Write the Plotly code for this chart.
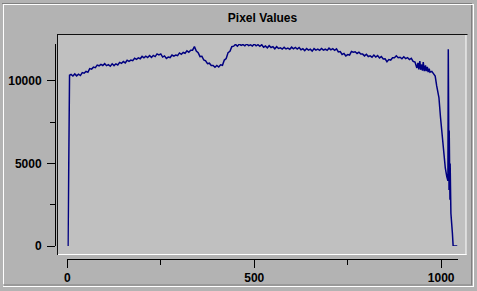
import plotly.graph_objects as go

# ---- data ----
x_vals = [2, 3, 5, 6,
          10, 15, 20, 25, 30, 35, 40, 45, 50, 55,
          60, 65, 70, 75, 80, 85, 90, 95, 100, 105,
          110, 115, 120, 125, 130, 135, 140, 145, 150, 155,
          160, 165, 170, 175, 180, 185, 190, 195, 200, 205,
          210, 215, 220, 225, 230, 235, 240, 245, 250, 255,
          260, 265, 270, 275, 280, 285, 290, 295, 300, 305,
          310, 315, 320, 325, 330, 335, 340, 345, 350, 355,
          360, 365, 370, 375, 380, 385, 390, 395, 400, 405,
          410, 415, 420, 425, 430, 435, 440, 445, 450, 455,
          460, 465, 470, 475, 480, 485, 490, 495, 500, 505,
          510, 515, 520, 525, 530, 535, 540, 545, 550, 555,
          560, 565, 570, 575, 580, 585, 590, 595, 600, 605,
          610, 615, 620, 625, 630, 635, 640, 645, 650, 655,
          660, 665, 670, 675, 680, 685, 690, 695, 700, 705,
          710, 715, 720, 725, 730, 735, 740, 745, 750, 755,
          760, 765, 770, 775, 780, 785, 790, 795, 800, 805,
          810, 815, 820, 825, 830, 835, 840, 845, 850, 855,
          860, 865, 870, 875, 880, 885, 890, 895, 900, 905,
          910, 915, 920, 925, 930, 935,
          938, 940, 943, 945, 948, 950, 952, 955, 958, 960, 963, 965, 968, 970, 975, 980,
          984, 988, 992, 994, 998, 1002, 1006, 1011, 1015, 1018, 1019, 1019.5, 1020,
          1021, 1021.5, 1022, 1023, 1023.5, 1024, 1025, 1026, 1030, 1032, 1043]
y_vals = [0, 5050, 5100, 10350,
          10400, 10300, 10430, 10310, 10410, 10330, 10510, 10470, 10580, 10530,
          10750, 10720, 10840, 10810, 10960, 10920, 11010, 10940, 11050, 10930,
          10990, 10895, 11040, 10930, 11040, 10970, 11130, 11070, 11180, 11100,
          11260, 11190, 11270, 11230, 11380, 11310, 11400, 11350, 11490, 11400,
          11500, 11420, 11540, 11430, 11550, 11480, 11640, 11580, 11640, 11450,
          11520, 11370, 11450, 11420, 11570, 11500, 11570, 11540, 11700, 11620,
          11730, 11680, 11830, 11740, 11870, 11870, 12080, 11820, 11720, 11480,
          11500, 11270, 11220, 11050, 11080, 10940, 10940, 10830, 10940, 10850,
          10980, 10950, 11270, 11360, 11720, 11800, 12080, 12110, 12220, 12110,
          12240, 12160, 12210, 12130, 12240, 12140, 12190, 12120, 12240, 12130,
          12200, 12100, 12200, 12050, 12120, 12010, 12140, 12030, 12080, 11950,
          12080, 11970, 12010, 11930, 12040, 11940, 11990, 11920, 12050, 11950,
          12030, 11940, 12030, 11890, 11955, 11840, 11970, 11870, 11930, 11810,
          11965, 11870, 11930, 11855, 11970, 11870, 11925, 11855, 11990, 11890,
          11960, 11860, 11950, 11760, 11780, 11610, 11670, 11520, 11600, 11570,
          11790, 11740, 11770, 11670, 11750, 11630, 11630, 11520, 11620, 11480,
          11520, 11440, 11570, 11450, 11540, 11400, 11480, 11330, 11340, 11170,
          11300, 11270, 11410, 11410, 11530, 11410, 11440, 11350, 11470, 11360,
          11420, 11300, 11370, 11190, 11150, 10790,
          11100, 10700, 11200, 10680, 11000, 10630, 11150, 10600, 10950, 10600, 10850,
          10540, 10750, 10530, 10580, 10410,
          10300, 9700, 9100, 9000, 7850, 6850, 5650, 4730, 4200, 3950, 11920, 3900, 7600,
          3400, 7000, 3000, 6200, 2800, 5000, 2400, 1980, 790, 0, 0]

x_ticks = [0, 500, 1000]
x_minor = [250, 750]
y_ticks = [0, 5000, 10000]
y_minor = [2500, 7500]
title_text = "Pixel Values"

# ---- geometry (pixels) ----
W, H = 477, 291
L, R, T, B = 55, 458, 44, 259   # paper box in pixels


def px(x):
    return (x - L) / (R - L)


def py(y):
    return (B - y) / (B - T)


FONT = "Liberation Sans, Arial, sans-serif"
OUTER = "#b3b3b3"
INNER = "#c0c0c0"
DARK = "#808080"
WHITE = "#ffffff"

fig = go.Figure()
fig.add_trace(go.Scatter(x=x_vals, y=y_vals, mode="lines",
                         line=dict(color="#000080", width=1.5),
                         hoverinfo="skip", showlegend=False))

shapes = []
shapes.append(dict(type="rect", xref="paper", yref="paper", layer="below",
                   x0=px(57.5), x1=px(466), y0=py(254.5), y1=py(34.5),
                   fillcolor=INNER, line=dict(width=0)))


def hline(x0, x1, y, color, w=1):
    return dict(type="line", xref="paper", yref="paper", layer="below",
                x0=px(x0), x1=px(x1), y0=py(y), y1=py(y),
                line=dict(color=color, width=w))


def vline(x, y0, y1, color, w=1):
    return dict(type="line", xref="paper", yref="paper", layer="below",
                x0=px(x), x1=px(x), y0=py(y0), y1=py(y1),
                line=dict(color=color, width=w))


shapes += [
    hline(57, 467.5, 34.5, "#101010", 1.2),
    vline(57.5, 34, 255, "#101010", 1),
    hline(58, 466.5, 254.5, WHITE, 1),
    vline(466, 35, 255, WHITE, 1),
    hline(2, 472, 3.5, DARK, 1),
    hline(3, 474, 4.5, WHITE, 1),
    vline(3.5, 4, 287, WHITE, 1),
    vline(471.5, 5, 285, DARK, 1),
    hline(3, 472, 285, DARK, 1),
    hline(3, 474, 286.5, WHITE, 1),
    vline(473.5, 4, 287, WHITE, 1),
]

fig.update_layout(
    width=W, height=H,
    margin=dict(l=L, r=W - R, t=T, b=H - B, pad=0, autoexpand=False),
    paper_bgcolor=OUTER,
    plot_bgcolor="rgba(0,0,0,0)",
    shapes=shapes,
    showlegend=False,
    title=dict(text=title_text, x=262.5 / W, xref="container",
               y=1 - 18 / H, yref="container", xanchor="center", yanchor="middle",
               automargin=False,
               font=dict(family=FONT, size=12, color="#000000", weight="bold")),
    font=dict(family=FONT, size=12, color="#000000"),
    xaxis=dict(domain=[px(67.3), 1], range=[0, 1045], anchor="free", position=0,
               automargin=False,
               showgrid=False, zeroline=False, showline=True, linecolor="#000000",
               linewidth=1, ticks="outside", ticklen=8, tickwidth=1, tickcolor="#000000",
               tickvals=x_ticks, ticktext=[str(v) for v in x_ticks],
               tickfont=dict(family=FONT, size=12, color="#000000", weight="bold"),
               minor=dict(ticks="outside", ticklen=5, tickwidth=1, tickcolor="#000000",
                          tickvals=x_minor, showgrid=False),
               fixedrange=True),
    yaxis=dict(domain=[py(246), 1], range=[0, 12242], anchor="free", position=0,
               automargin=False,
               showgrid=False, zeroline=False, showline=True, linecolor="#000000",
               linewidth=1, ticks="outside", ticklen=8, tickwidth=1, tickcolor="#000000",
               tickvals=y_ticks, ticktext=[str(v) for v in y_ticks],
               tickfont=dict(family=FONT, size=12, color="#000000", weight="bold"),
               minor=dict(ticks="outside", ticklen=5, tickwidth=1, tickcolor="#000000",
                          tickvals=y_minor, showgrid=False),
               ticklabelstandoff=3,
               fixedrange=True),
)

fig.write_html("out.html", config={"displayModeBar": False})
